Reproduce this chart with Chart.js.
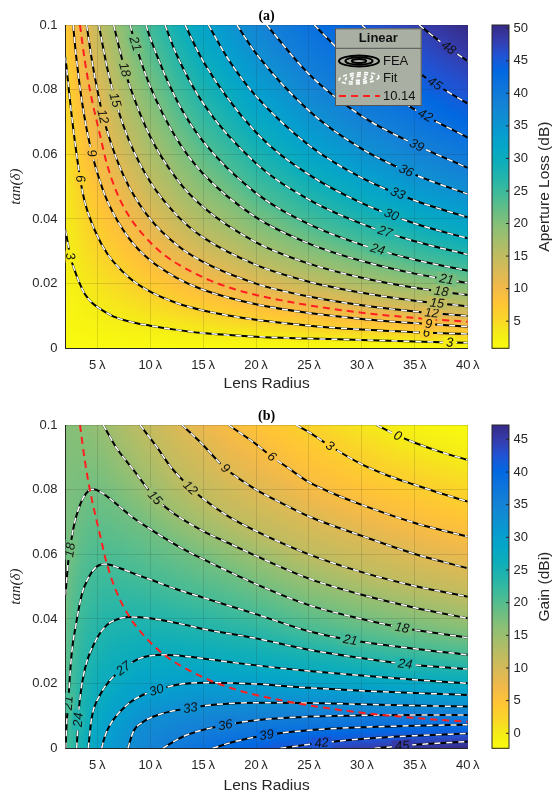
<!DOCTYPE html>
<html>
<head>
<meta charset="utf-8">
<script src="https://cdn.jsdelivr.net/npm/chart.js@4.4.1/dist/chart.umd.min.js"></script>
<style>
  html, body { margin: 0; padding: 0; background: #fff; }
  #wrap { position: relative; width: 555px; height: 794px; }
  canvas { position: absolute; left: 0; }
</style>
</head>
<body>
<div id="wrap">
  <canvas id="lossChart" width="555" height="397" style="top:0"></canvas>
  <canvas id="gainChart" width="555" height="397" style="top:397px"></canvas>
</div>
<script>
// axes
const radiusTicks = [5, 10, 15, 20, 25, 30, 35, 40];
const tanTicks = [0, 0.02, 0.04, 0.06, 0.08, 0.1];

// fitted 10.14 dB line, [lens radius (lambda), tan(delta)]
const fitLine = [[3.37, 0.1], [3.84, 0.0887], [4.3, 0.080], [5.26, 0.066], [5.9, 0.0572], [6.84, 0.0482], [8.1, 0.0404], [9.35, 0.0351], [11.2, 0.0292], [13.45, 0.0245], [15.65, 0.021], [17.85, 0.0184], [20, 0.0165], [22.3, 0.0149], [25, 0.0133], [30, 0.011], [35, 0.0094], [40, 0.0082]];

// (a) aperture loss contours
const lossLevels = [3, 6, 9, 12, 15, 18, 21, 24, 27, 30, 33, 36, 39, 42, 45, 48];
const lossLines = [
  [[2, 0.0366], [2.45, 0.0285], [2.9, 0.0238], [3.4, 0.0196], [3.84, 0.0167], [4.5, 0.0141], [5, 0.0128], [6.5, 0.0099], [8.4, 0.008], [10, 0.007], [12.5, 0.0057], [15, 0.0047], [20, 0.0036], [25, 0.003], [30, 0.0026], [35, 0.0021], [40, 0.0017]],
  [[2, 0.09], [2.3, 0.0805], [2.6, 0.0715], [3.2, 0.0565], [3.6, 0.0485], [4, 0.0432], [5, 0.0348], [6, 0.029], [8, 0.0219], [10, 0.0175], [12.5, 0.014], [15, 0.0117], [20, 0.0088], [25, 0.007], [30, 0.0058], [35, 0.005], [40, 0.0044]],
  [[2.72, 0.1], [3, 0.0905], [3.5, 0.0775], [4, 0.0678], [4.5, 0.0603], [5, 0.0543], [6, 0.0452], [8, 0.034], [10, 0.0272], [12.5, 0.0218], [15, 0.0181], [20, 0.0136], [25, 0.0109], [30, 0.0091], [35, 0.0078], [40, 0.0067]],
  [[4, 0.1], [4.5, 0.089], [5, 0.08], [5.55, 0.0717], [6, 0.0665], [7, 0.0571], [8, 0.05], [10, 0.04], [12.5, 0.032], [15, 0.0267], [20, 0.02], [25, 0.016], [30, 0.0133], [35, 0.0114], [40, 0.01]],
  [[5.15, 0.1], [6, 0.0858], [6.7, 0.0768], [8, 0.0643], [10, 0.0515], [12.5, 0.0412], [15, 0.0343], [20, 0.0258], [25, 0.0206], [30, 0.0172], [35, 0.0147], [40, 0.013]],
  [[6.55, 0.1], [7.6, 0.0862], [8, 0.0818], [10, 0.0655], [12.5, 0.0524], [15, 0.0437], [20, 0.0328], [25, 0.0262], [30, 0.0218], [35, 0.0187], [40, 0.0165]],
  [[8.1, 0.1], [8.6, 0.0942], [10, 0.081], [12.5, 0.0648], [15, 0.054], [20, 0.0405], [25, 0.0324], [30, 0.027], [35, 0.0231], [40, 0.0202]],
  [[9.6, 0.1], [10, 0.096], [12.5, 0.0768], [15, 0.064], [20, 0.048], [25, 0.0384], [30, 0.032], [35, 0.0274], [40, 0.024]],
  [[11.4, 0.1], [12.5, 0.0908], [15, 0.0758], [20, 0.0572], [25, 0.046], [30, 0.0385], [35, 0.0331], [40, 0.029]],
  [[13.3, 0.1], [15, 0.0888], [20, 0.0668], [25, 0.0537], [30, 0.0449], [35, 0.0386], [40, 0.034]],
  [[15.5, 0.1], [17.5, 0.0888], [20, 0.078], [25, 0.0628], [30, 0.0527], [35, 0.0457], [40, 0.0405]],
  [[18.2, 0.1], [20, 0.0912], [25, 0.0735], [30, 0.0617], [35, 0.0537], [40, 0.0477]],
  [[21, 0.1], [25, 0.0848], [30, 0.0718], [35, 0.0631], [40, 0.0558]],
  [[25.5, 0.1], [30, 0.0855], [35, 0.0738], [40, 0.0652]],
  [[30, 0.1], [32.5, 0.0925], [35, 0.0861], [37.5, 0.0806], [40, 0.0757]],
  [[35.4, 0.1], [37.5, 0.0946], [40, 0.0888]]
];
const lossLabelAt = [[2.45, 38.3], [3.4, 36.1], [4.5, 36.3], [5.55, 36.6], [6.7, 37.1], [7.6, 37.5], [8.6, 38], [31.5], [32.2], [32.8], [33.4], [34.2], [35.2], [36], [36.9], [38.2]];

// values along the plot edges (t = 0.1 and t = 0)
const edgeRadius = [2, 3, 4, 5, 6, 8, 10, 12.5, 15, 20, 25, 30, 35, 40];
const lossTop = [6.8, 9.5, 12, 14.6, 16.8, 20.8, 24.7, 28.7, 32.3, 37.9, 41.7, 45, 47.8, 50.4];
const lossBottom = [0.9, 0.9, 0.9, 0.9, 0.9, 0.9, 0.9, 0.9, 0.9, 0.9, 0.9, 0.9, 0.9, 0.9];
const lossRange = [0.83, 50.5];
const lossBarTicks = [5, 10, 15, 20, 25, 30, 35, 40, 45, 50];

// (b) gain contours
const gainLevels = [0, 3, 6, 9, 12, 15, 18, 21, 24, 27, 30, 33, 36, 39, 42, 45];
const gainLines = [
  [[31.4, 0.1], [33.4, 0.0967], [35, 0.0945], [37.5, 0.0916], [40, 0.0892]],
  [[23.8, 0.1], [25, 0.0978], [27, 0.0935], [30, 0.0878], [32.5, 0.0843], [35, 0.0815], [37.5, 0.0788], [40, 0.0763]],
  [[17.4, 0.1], [19.7, 0.0948], [21.5, 0.0902], [23, 0.0868], [25, 0.0823], [27.5, 0.0785], [30, 0.0753], [35, 0.0697], [40, 0.0655]],
  [[13, 0.1], [14.7, 0.0948], [17.1, 0.0866], [20, 0.08], [22.5, 0.0757], [25, 0.0717], [30, 0.0657], [35, 0.0601], [40, 0.0557]],
  [[9.04, 0.1], [10.6, 0.0933], [12, 0.0868], [13.8, 0.0806], [15, 0.0772], [17.5, 0.0715], [20, 0.0672], [25, 0.06], [30, 0.0545], [35, 0.0502], [40, 0.0469]],
  [[5.57, 0.1], [6.84, 0.0928], [8.4, 0.0862], [10.46, 0.0775], [12.2, 0.0727], [15, 0.0672], [17.85, 0.0628], [20, 0.0595], [25, 0.0525], [30, 0.0475], [35, 0.0435], [40, 0.0402]],
  [[2, 0.0474], [2.26, 0.0577], [2.74, 0.068], [3.37, 0.0753], [4.15, 0.0796], [4.6, 0.0801], [5.26, 0.0794], [6.84, 0.0755], [8.4, 0.0713], [10, 0.0678], [12.5, 0.0628], [15, 0.0585], [20, 0.0508], [25, 0.0443], [30, 0.04], [33.8, 0.0373], [40, 0.0342]],
  [[2.02, 0], [2.1, 0.0072], [2.26, 0.014], [2.36, 0.0196], [2.6, 0.0299], [3, 0.0385], [3.53, 0.0474], [4.2, 0.053], [4.95, 0.0562], [5.73, 0.057], [7.15, 0.0557], [8.5, 0.054], [10, 0.0522], [12.5, 0.0492], [15, 0.0466], [20, 0.0415], [25, 0.0362], [28.9, 0.0335], [35, 0.0308], [40, 0.0289]],
  [[3.06, 0], [3.2, 0.0088], [3.37, 0.0155], [3.84, 0.0247], [4.8, 0.033], [5.9, 0.0381], [7.15, 0.0402], [8.1, 0.0406], [10, 0.0402], [13.45, 0.0381], [15, 0.0369], [20, 0.034], [25, 0.0305], [30, 0.0279], [34.1, 0.0261], [40, 0.0245]],
  [[4.15, 0], [4.47, 0.0093], [5.26, 0.0165], [6.2, 0.021], [7.46, 0.0247], [9.04, 0.0278], [11.2, 0.0289], [13.45, 0.0284], [17.85, 0.0265], [22.3, 0.0248], [25, 0.0239], [30, 0.0225], [35, 0.0212], [40, 0.0201]],
  [[5.42, 0], [5.7, 0.0035], [6.2, 0.0072], [7.8, 0.0134], [9, 0.016], [10.6, 0.018], [12.8, 0.0198], [15, 0.0203], [20, 0.0199], [25, 0.0187], [30, 0.0178], [35, 0.0171], [40, 0.0165]],
  [[7.9, 0], [8.4, 0.0051], [9.35, 0.0082], [11, 0.0106], [13.8, 0.0125], [16, 0.0135], [20, 0.0141], [25, 0.014], [30, 0.0136], [35, 0.0132], [40, 0.0129]],
  [[11.2, 0], [12.5, 0.0026], [13.45, 0.0041], [15, 0.0057], [17.1, 0.0072], [20, 0.0087], [25, 0.0098], [30, 0.0102], [35, 0.0103], [40, 0.0103]],
  [[15.9, 0], [18, 0.0021], [21, 0.0041], [25, 0.0056], [30, 0.0065], [35, 0.007], [40, 0.0073]],
  [[22.3, 0], [26, 0.0016], [30, 0.0029], [35, 0.0039], [40, 0.0046]],
  [[31.2, 0], [35, 0.0011], [40, 0.0021]]
];
const gainLabelAt = [[33.4], [27], [21.5], [17.1], [13.8], [10.46], [2.43, 33.8], [2.26, 28.9], [3.2, 34.1], [7.46], [10.6], [13.8], [17.1], [21], [26.2], [33.8]];
const gainTop = [16.6, 16.5, 16.1, 15.5, 14.6, 12.9, 11.3, 9.4, 7.6, 4.8, 2.5, 0.6, -1.0, -2.2];
const gainBottom = [20.9, 23.8, 26.6, 29.0, 30.7, 33.1, 35.0, 36.8, 38.4, 41.1, 43.3, 44.7, 46.1, 47.2];
const gainRange = [-2.3, 47.2];
const gainBarTicks = [0, 5, 10, 15, 20, 25, 30, 35, 40, 45];

// parula, sampled every 3rd entry
const parula = [[53,42,135],[53,61,173],[32,83,212],[2,104,225],[13,117,220],[20,129,214],[16,142,210],[7,156,207],[6,167,198],[15,174,185],[37,181,169],[66,187,152],[101,190,134],[135,191,119],[165,190,107],[192,188,96],[217,186,86],[241,185,74],[255,195,55],[250,211,42],[245,235,24],[249,251,14]];

const ink = '#262626';
const sans = "'Liberation Sans', Arial, sans-serif";
const tickFont = {family: sans, size: 13};

function interp(xs, ys, v) {
  if (v <= xs[0]) return ys[0];
  for (let i = 1; i < xs.length; i++) {
    if (v <= xs[i]) return ys[i - 1] + (ys[i] - ys[i - 1]) * (v - xs[i - 1]) / (xs[i] - xs[i - 1]);
  }
  return ys[ys.length - 1];
}

function tanOnLine(line, r) {
  if (r < line[0][0] || r > line[line.length - 1][0]) return null;
  return interp(line.map(p => p[0]), line.map(p => p[1]), r);
}

// yellow = low, blue = high (flipped parula)
function colorOf(v, range) {
  let f = 1 - (v - range[0]) / (range[1] - range[0]);
  f = Math.min(1, Math.max(0, f)) * (parula.length - 1);
  const i = Math.min(parula.length - 2, Math.floor(f)), u = f - i;
  return [0, 1, 2].map(c => Math.round(parula[i][c] + u * (parula[i + 1][c] - parula[i][c])));
}

function buildSets(lines) {
  const sets = [];
  lines.forEach(line => {
    const pts = line.map(p => ({x: p[0], y: p[1]}));
    sets.push({data: pts, showLine: true, borderColor: '#000', borderWidth: 2, pointRadius: 0, cubicInterpolationMode: 'monotone', order: 2});
    sets.push({data: pts, showLine: true, borderColor: '#fff', borderWidth: 1.5, borderDash: [6, 6], pointRadius: 0, cubicInterpolationMode: 'monotone', order: 1});
  });
  sets.push({data: fitLine.map(p => ({x: p[0], y: p[1]})), showLine: true, borderColor: '#ff1f1f', borderWidth: 2, borderDash: [7, 5], pointRadius: 0, cubicInterpolationMode: 'monotone', order: 0});
  return sets;
}

function panelPlugin(p) {
  let heat = null;
  return {
    id: 'panel',
    beforeDraw(chart) {
      const {ctx, chartArea: a, scales: {x, y}} = chart;
      const x0 = Math.floor(a.left), y0 = Math.floor(a.top);
      const w = Math.ceil(a.right) - x0, h = Math.ceil(a.bottom) - y0;
      const img = ctx.createImageData(w, h);
      for (let i = 0; i < w; i++) {
        const r = x.getValueForPixel(x0 + i + 0.5);
        const nodes = [[0, interp(edgeRadius, p.bottom, r)], [0.1, interp(edgeRadius, p.top, r)]];
        p.lines.forEach((ln, k) => {
          const t = tanOnLine(ln, r);
          if (t !== null && t > 0 && t < 0.1) nodes.push([t, p.levels[k]]);
        });
        nodes.sort((m, n) => m[0] - n[0]);
        const ts = nodes.map(n => n[0]), vs = nodes.map(n => n[1]);
        for (let j = 0; j < h; j++) {
          const t = y.getValueForPixel(y0 + j + 0.5);
          const c = colorOf(interp(ts, vs, t), p.range);
          const o = (j * w + i) * 4;
          img.data[o] = c[0]; img.data[o + 1] = c[1]; img.data[o + 2] = c[2]; img.data[o + 3] = 255;
        }
      }
      ctx.putImageData(img, x0, y0);
      heat = {img, x0, y0, w, h};
    },
    afterDatasetsDraw(chart) {
      // inline contour labels
      const {ctx, chartArea: a, scales: {x, y}} = chart;
      ctx.save();
      ctx.beginPath();
      ctx.rect(a.left, a.top, a.right - a.left, a.bottom - a.top);
      ctx.clip();
      ctx.font = 'italic 13px ' + sans;
      ctx.textAlign = 'center';
      ctx.textBaseline = 'middle';
      p.labelAt.forEach((rs, k) => rs.forEach(r => {
        const ln = p.lines[k];
        const t = tanOnLine(ln, r);
        if (t === null) return;
        const px = x.getPixelForValue(r), py = y.getPixelForValue(t);
        const d = Math.max(0.1, r * 0.03);
        const r1 = Math.max(ln[0][0], r - d), r2 = Math.min(ln[ln.length - 1][0], r + d);
        let ang = Math.atan2(y.getPixelForValue(tanOnLine(ln, r2)) - y.getPixelForValue(tanOnLine(ln, r1)),
                             x.getPixelForValue(r2) - x.getPixelForValue(r1));
        if (ang > Math.PI / 2) ang -= Math.PI;
        if (ang < -Math.PI / 2) ang += Math.PI;
        const txt = String(p.levels[k]);
        const tw = ctx.measureText(txt).width;
        const hx = Math.min(heat.w - 1, Math.max(0, Math.round(px - heat.x0)));
        const hy = Math.min(heat.h - 1, Math.max(0, Math.round(py - heat.y0)));
        const o = (hy * heat.w + hx) * 4;
        ctx.save();
        ctx.translate(px, py);
        ctx.rotate(ang);
        ctx.fillStyle = `rgb(${heat.img.data[o]},${heat.img.data[o + 1]},${heat.img.data[o + 2]})`;
        ctx.fillRect(-tw / 2 - 3, -6, tw + 6, 12);
        ctx.fillStyle = '#111';
        ctx.fillText(txt, 0, 0.5);
        ctx.restore();
      }));
      ctx.restore();
    },
    afterDraw(chart) {
      const {ctx, chartArea: a} = chart;
      const midY = (a.top + a.bottom) / 2;
      ctx.save();
      // colorbar
      const bx = a.right + 24.3, bw = 17;
      const span = p.range[1] - p.range[0];
      for (let py = Math.floor(a.top); py < a.bottom; py++) {
        const v = p.range[0] + (a.bottom - py - 0.5) / (a.bottom - a.top) * span;
        const c = colorOf(v, p.range);
        ctx.fillStyle = `rgb(${c[0]},${c[1]},${c[2]})`;
        ctx.fillRect(bx, py, bw, 1);
      }
      ctx.strokeStyle = ink;
      ctx.lineWidth = 1;
      ctx.strokeRect(bx, a.top, bw, a.bottom - a.top);
      ctx.fillStyle = ink;
      ctx.font = '13px ' + sans;
      ctx.textAlign = 'left';
      ctx.textBaseline = 'middle';
      p.barTicks.forEach(v => {
        const py = a.bottom - (v - p.range[0]) / span * (a.bottom - a.top);
        ctx.beginPath();
        ctx.moveTo(bx + bw - 3, py);
        ctx.lineTo(bx + bw, py);
        ctx.stroke();
        ctx.fillText(String(v), bx + bw + 4.5, py);
      });
      // titles
      ctx.textAlign = 'center';
      ctx.font = 'bold 14px "Liberation Serif", "Times New Roman", serif';
      ctx.fillStyle = '#000';
      ctx.fillText(p.title, (a.left + a.right) / 2, p.titleY);
      ctx.fillStyle = ink;
      ctx.font = '15.5px ' + sans;
      ctx.fillText('Lens Radius', (a.left + a.right) / 2, p.xTitleY);
      ctx.save();
      ctx.translate(545, midY);
      ctx.rotate(-Math.PI / 2);
      ctx.fillText(p.barTitle, 0, 0);
      ctx.restore();
      ctx.save();
      ctx.translate(16, midY);
      ctx.rotate(-Math.PI / 2);
      ctx.font = 'italic 15px "Liberation Serif", "Times New Roman", serif';
      ctx.fillText('tan(δ)', 0, 0);
      ctx.restore();
      if (p.legend) drawLegend(ctx);
      ctx.restore();
    }
  };
}

function drawLegend(ctx) {
  const L = 335, T = 28.3, W = 86.7, H = 77.7;
  ctx.fillStyle = '#a9b0a3';
  ctx.fillRect(L, T, W, H);
  ctx.strokeStyle = '#555';
  ctx.lineWidth = 1;
  ctx.strokeRect(L + 0.5, T + 0.5, W - 1, H - 1);
  ctx.beginPath();
  ctx.moveTo(L, T + 20);
  ctx.lineTo(L + W, T + 20);
  ctx.stroke();
  ctx.fillStyle = '#111';
  ctx.textAlign = 'center';
  ctx.textBaseline = 'middle';
  ctx.font = 'bold 13px ' + sans;
  ctx.fillText('Linear', L + W / 2, T + 10.5);
  [1, 0.68, 0.36].forEach(s => {
    ctx.beginPath();
    ctx.ellipse(359, 61, 20 * s, 5.5 * s, 0, 0, 2 * Math.PI);
    ctx.strokeStyle = '#000';
    ctx.lineWidth = 2;
    ctx.setLineDash([]);
    ctx.stroke();
    ctx.beginPath();
    ctx.ellipse(359, 78.3, 20 * s, 5.5 * s, -0.08, 0, 2 * Math.PI);
    ctx.strokeStyle = '#fff';
    ctx.lineWidth = 1.6;
    ctx.setLineDash([4, 3]);
    ctx.stroke();
  });
  ctx.beginPath();
  ctx.moveTo(339, 96);
  ctx.lineTo(380, 96);
  ctx.strokeStyle = '#ff1f1f';
  ctx.lineWidth = 2;
  ctx.setLineDash([7, 5]);
  ctx.stroke();
  ctx.setLineDash([]);
  ctx.fillStyle = '#111';
  ctx.textAlign = 'left';
  ctx.font = '13px ' + sans;
  ctx.fillText('FEA', 383, 61);
  ctx.fillText('Fit', 383, 78.3);
  ctx.fillText('10.14', 383, 96);
}

function makeChart(id, panel, padTop, axisH) {
  return new Chart(document.getElementById(id), {
    type: 'scatter',
    data: {datasets: buildSets(panel.lines)},
    options: {
      responsive: false,
      animation: false,
      devicePixelRatio: 1,
      events: [],
      layout: {padding: {top: padTop, right: 87.3, bottom: 0, left: 0}},
      plugins: {legend: {display: false}, tooltip: {enabled: false}},
      scales: {
        x: {
          type: 'linear', min: 2, max: 40,
          afterFit: s => { s.height = axisH; },
          afterBuildTicks: s => { s.ticks = radiusTicks.map(v => ({value: v})); },
          ticks: {callback: v => v + '\u2009λ', padding: 9, font: tickFont, color: ink, maxRotation: 0, autoSkip: false},
          grid: {color: 'rgba(38,38,38,0.15)', drawTicks: false},
          border: {color: ink, width: 1}
        },
        y: {
          type: 'linear', min: 0, max: 0.1,
          afterFit: s => { s.width = 65.5; },
          afterBuildTicks: s => { s.ticks = tanTicks.map(v => ({value: v})); },
          ticks: {callback: v => String(v), padding: 8, font: tickFont, color: ink},
          grid: {color: 'rgba(38,38,38,0.15)', drawTicks: false},
          border: {color: ink, width: 1}
        }
      }
    },
    plugins: [panelPlugin(panel)]
  });
}

makeChart('lossChart', {
  levels: lossLevels, lines: lossLines, labelAt: lossLabelAt,
  top: lossTop, bottom: lossBottom, range: lossRange, barTicks: lossBarTicks,
  title: '(a)', barTitle: 'Aperture Loss (dB)', legend: true, titleY: 16, xTitleY: 384
}, 25, 48.7);

makeChart('gainChart', {
  levels: gainLevels, lines: gainLines, labelAt: gainLabelAt,
  top: gainTop, bottom: gainBottom, range: gainRange, barTicks: gainBarTicks,
  title: '(b)', barTitle: 'Gain (dBi)', legend: false, titleY: 19, xTitleY: 389
}, 28, 45.7);
</script>
</body>
</html>
